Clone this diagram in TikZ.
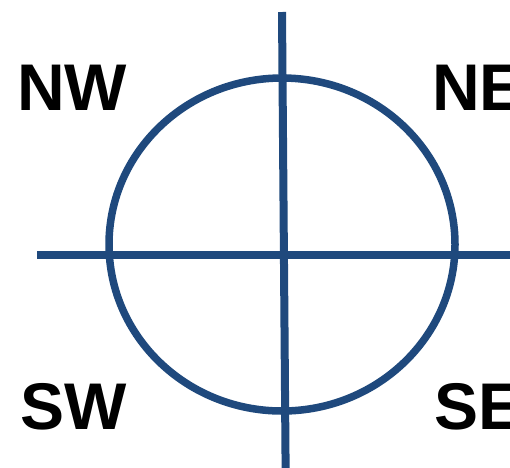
\documentclass[tikz,border=0pt]{standalone}
\usepackage{fontspec}
\setmainfont{Liberation Sans}
\usepackage{tikz}
\usetikzlibrary{positioning}
\usepackage{xcolor}
\definecolor{axisblue}{RGB}{31,73,125}
\tikzset{
  axisline/.style={line width=8pt, draw=axisblue},
  ringline/.style={line width=7.5pt, draw=axisblue},
  quadlabel/.style={inner sep=0pt, anchor=base west, text=black,
    font=\fontsize{66}{66}\selectfont\bfseries}
}

\begin{document}
\begin{tikzpicture}[x=1pt,y=-1pt]
  \useasboundingbox (0,0) rectangle (510,467);
  % axes and circle
  \coordinate (centre) at (282,244.5);
  \coordinate (vtop) at (282,12);
  \coordinate (vbot) at (285.7,480);
  \coordinate (hleft) at (37,255);
  \coordinate (hright) at (525,255);
  \draw[ringline] (centre) ellipse [x radius=173pt, y radius=166.5pt];
  \draw[axisline] (vtop)--(vbot);
  \draw[axisline] (hleft)--(hright);

  % quadrant labels
  \node[quadlabel] (nw) at (17,110) {NW};
  \node[quadlabel] (ne) at (432,110) {NE};
  \node[quadlabel] (sw) at (20,429) {SW};
  \node[quadlabel] (se) at (434,429) {SE};
\end{tikzpicture}
\end{document}
